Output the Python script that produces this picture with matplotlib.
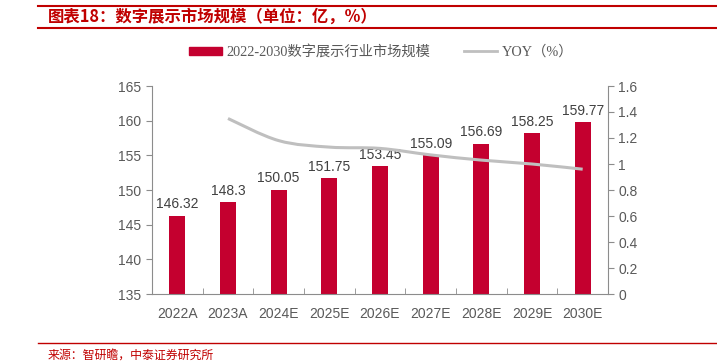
import numpy as np
import matplotlib
matplotlib.use("Agg")
import matplotlib.pyplot as plt
from matplotlib.path import Path
from matplotlib.patches import PathPatch
from matplotlib.lines import Line2D

plt.rcParams['font.family'] = ['Liberation Sans', 'Noto Sans CJK SC', 'DejaVu Sans']

# Data
years = ['2022A', '2023A', '2024E', '2025E', '2026E', '2027E', '2028E', '2029E', '2030E']
market = [146.32, 148.3, 150.05, 151.75, 153.45, 155.09, 156.69, 158.25, 159.77]
yoy_years = ['2023A', '2024E', '2025E', '2026E', '2027E', '2028E', '2029E', '2030E']
yoy = [1.35, 1.18, 1.13, 1.12, 1.07, 1.03, 1.00, 0.96]

bar_color = '#C4002F'
line_color = '#BFBFBF'
tick_color = '#595959'
axis_color = '#8C8C8C'
title_red = '#C00000'

fig = plt.figure(figsize=(7.17, 3.64), dpi=100)
ax = fig.add_axes([152 / 717, 1 - 294 / 364, (608 - 152) / 717, (294 - 86) / 364])
ax2 = ax.twinx()

x = np.arange(len(years))
ax.bar(x, [v - 135 for v in market], bottom=135, width=0.32, color=bar_color, zorder=2)
for xi, v in zip(x, market):
    ax.text(xi, v + 0.6, f'{v:g}', ha='center', va='bottom', fontsize=10, color='#404040')

ax.set_ylim(135, 165)
ax.set_yticks(range(135, 166, 5))
ax.set_xlim(-0.5, len(years) - 0.5)
ax.set_xticks(x)
ax.set_xticklabels(years)
ax.set_xticks(np.arange(-0.5, len(years)), minor=True)
ax.tick_params(axis='x', which='major', length=0, labelsize=10, colors=tick_color, pad=9)
ax.tick_params(axis='x', which='minor', length=4, direction='in', color=axis_color)
ax.tick_params(axis='y', length=4, direction='out', labelsize=10, colors=tick_color, color=axis_color)

ax2.set_ylim(0, 1.6)
ax2.set_yticks(np.arange(0, 1.61, 0.2))
ax2.set_yticklabels(['0', '0.2', '0.4', '0.6', '0.8', '1', '1.2', '1.4', '1.6'])
ax2.tick_params(axis='y', length=4, direction='out', labelsize=10, colors=tick_color, color=axis_color)

for a in (ax, ax2):
    a.spines['top'].set_visible(False)
    for s in ('left', 'right', 'bottom'):
        a.spines[s].set_color(axis_color)
ax.spines['right'].set_visible(False)
ax2.spines['left'].set_visible(False)
ax2.spines['bottom'].set_visible(False)

# smooth YOY line (Catmull-Rom as cubic Bezier)
px = np.array([years.index(y) for y in yoy_years], dtype=float)
py = np.array(yoy)
pts = np.column_stack([px, py])
verts = [pts[0]]
codes = [Path.MOVETO]
n = len(pts)
for i in range(n - 1):
    p0 = pts[max(i - 1, 0)]
    p1 = pts[i]
    p2 = pts[i + 1]
    p3 = pts[min(i + 2, n - 1)]
    c1 = p1 + (p2 - p0) / 6
    c2 = p2 - (p3 - p1) / 6
    verts += [c1, c2, p2]
    codes += [Path.CURVE4] * 3
ax2.add_patch(PathPatch(Path(verts, codes), fill=False, edgecolor=line_color, lw=2.2, zorder=3))

# legend
handles = [plt.Rectangle((0, 0), 1, 1, color=bar_color), Line2D([0], [0], color=line_color, lw=2)]
leg = fig.legend(handles, ['2022-2030数字展示行业市场规模', 'YOY（%）'], loc='center',
                 bbox_to_anchor=(381 / 717, 1 - 52 / 364), ncol=2, frameon=False,
                 prop={'family': ['Liberation Serif', 'Noto Sans CJK SC'], 'size': 10.3},
                 handlelength=2.3, handleheight=0.5, columnspacing=2.4, handletextpad=0.3)
for t in leg.get_texts():
    t.set_color('#595959')

# title and source with red rules
fig.add_artist(Line2D([38 / 717, 1.0], [1 - 6 / 364] * 2, color=title_red, lw=1.5))
fig.add_artist(Line2D([38 / 717, 1.0], [1 - 28 / 364] * 2, color=title_red, lw=1.5))
fig.text(48 / 717, 1 - 17 / 364, '图表18：数字展示市场规模（单位：亿，%）', ha='left', va='center',
         fontsize=11.8, fontweight='bold', color=title_red, family=['Noto Sans CJK SC', 'DejaVu Sans'])
fig.add_artist(Line2D([38 / 717, 1.0], [1 - 343 / 364] * 2, color=title_red, lw=1))
fig.text(48 / 717, 1 - 356 / 364, '来源：智研瞻，中泰证券研究所', ha='left', va='center',
         fontsize=8.6, color=title_red, family=['Noto Sans CJK SC', 'DejaVu Sans'])

fig.savefig('out.png', dpi=100)
